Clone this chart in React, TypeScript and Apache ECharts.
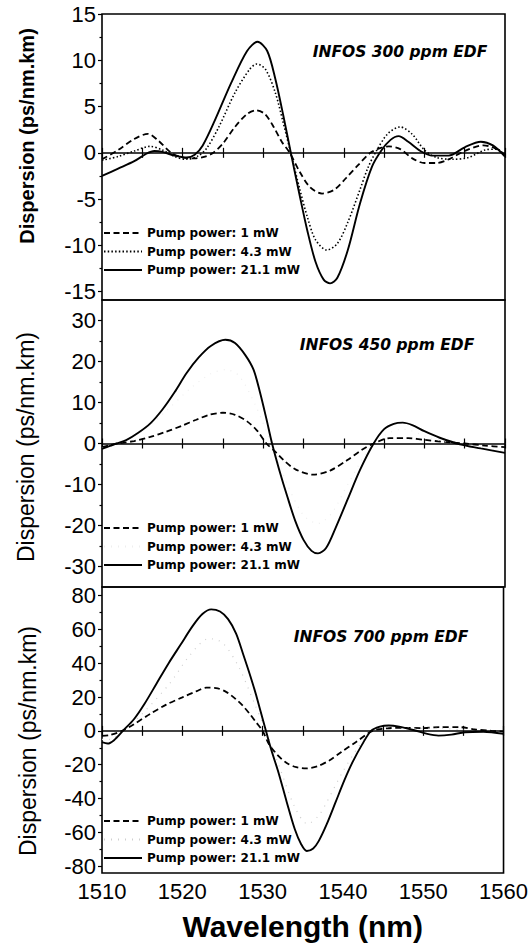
import React, { useEffect, useRef } from "react";
import * as echarts from "echarts";

// ---------- Data ----------
const X_MIN = 1510;
const X_MAX = 1560;
const X_INTERVAL = 10;

const LEGEND_LABELS = ["Pump power: 1 mW", "Pump power: 4.3 mW", "Pump power: 21.1 mW"];
const PANEL_TITLES = ["INFOS 300 ppm EDF", "INFOS 450 ppm EDF", "INFOS 700 ppm EDF"];
const Y_NAME = "Dispersion (ps/nm.km)";
const X_NAME = "Wavelength (nm)";

// y ranges and tick labels
const P1_RANGE = [-15.9, 15];
const P2_RANGE = [-35, 35];
const P3_RANGE = [-84, 85];
const P1_TICKS = [-15, -10, -5, 0, 5, 10, 15];
const P2_TICKS = [-30, -20, -10, 0, 10, 20, 30];
const P3_TICKS = [-80, -60, -40, -20, 0, 20, 40, 60, 80];
const P1_MINOR = [-12.5, -7.5, -2.5, 2.5, 7.5, 12.5];
const P2_MINOR = [-25, -15, -5, 5, 15, 25];
const P3_MINOR = [-70, -50, -30, -10, 10, 30, 50, 70];

// Panel 1 (300 ppm)
const P1_WL_1 = [1510, 1512, 1514, 1515.7, 1517, 1518.6, 1520, 1521.5, 1522.8, 1523.8, 1525, 1526.5, 1528, 1529.1, 1530.2, 1531.3, 1532.3, 1533.3, 1534.5, 1535.8, 1537.3, 1538.8, 1540.3, 1541.8, 1543.3, 1544.5, 1545.6, 1547, 1548.5, 1550, 1551.5, 1553, 1555, 1557.3, 1558.5, 1560];
const P1_D_1 = [-0.7, 0.3, 1.5, 2.05, 1.3, 0.0, -0.5, -0.6, -0.4, 0.0, 1.0, 2.8, 4.2, 4.6, 4.2, 2.8, 1.2, 0.0, -2.0, -3.7, -4.4, -4.0, -2.7, -1.3, 0.0, 0.5, 0.7, 0.4, -0.6, -1.1, -1.1, -0.7, 0.2, 0.8, 0.6, -0.2];
const P1_WL_43 = [1510, 1512, 1514, 1516, 1517.5, 1519, 1520.5, 1522, 1523, 1524.5, 1526.5, 1528.3, 1529.2, 1530.3, 1531.5, 1532.5, 1533.5, 1534.5, 1535.5, 1536.5, 1537.9, 1539.2, 1540.5, 1542, 1543, 1544.1, 1545.5, 1547, 1548.5, 1550, 1551.5, 1553.5, 1555.5, 1557.5, 1559, 1560];
const P1_D_43 = [-0.8, -0.4, 0.2, 0.7, 0.3, -0.4, -0.7, -0.3, 0.5, 2.8, 6.5, 9.0, 9.6, 9.0, 6.5, 3.2, -0.3, -3.8, -7.0, -9.4, -10.5, -9.8, -7.5, -4.0, -1.6, 0.3, 2.1, 2.8, 2.0, 0.3, -0.5, -0.7, -0.5, 0.3, 0.4, -0.3];
const P1_WL_211 = [1510, 1512, 1514, 1515.5, 1516.5, 1517.5, 1519, 1520.5, 1521.5, 1522.5, 1524, 1526, 1528, 1529.3, 1530.5, 1531.5, 1532.5, 1533.5, 1534.5, 1535.5, 1536.5, 1537.5, 1538.3, 1539.2, 1540.5, 1542, 1543.5, 1544.7, 1545.8, 1546.8, 1548, 1549.5, 1551, 1553, 1555, 1557, 1558.5, 1560];
const P1_D_211 = [-2.5, -1.7, -0.9, -0.1, 0.2, 0.1, -0.3, -0.5, -0.2, 0.8, 3.5, 7.5, 11.0, 12.0, 11.0, 8.0, 4.0, -0.3, -4.5, -8.5, -11.8, -13.7, -14.1, -13.5, -10.5, -5.5, -1.5, 0.3, 1.4, 1.8, 1.2, 0.2, -0.3, -0.3, 0.6, 1.2, 0.8, -0.4];

// Panel 2 (450 ppm)
const P2_WL_1 = [1510, 1511, 1512, 1514, 1516, 1518, 1520, 1521.7, 1523.3, 1525, 1526.5, 1528, 1529.3, 1530.4, 1531.5, 1532.5, 1534, 1536.2, 1538.3, 1540.4, 1542.2, 1543.7, 1545.7, 1548, 1550, 1552.3, 1555, 1557.5, 1560];
const P2_D_1 = [-0.9, -0.4, 0.0, 0.6, 1.6, 2.9, 4.4, 5.8, 7.0, 7.5, 7.0, 5.4, 3.0, 0.0, -2.0, -4.0, -6.3, -7.6, -6.6, -4.1, -1.6, 0.0, 1.3, 1.3, 0.9, 0.4, 0.0, -0.5, -0.9];
const P2_WL_43 = [1510, 1512, 1515, 1518, 1521, 1523.5, 1525.3, 1527, 1529, 1531, 1533, 1535, 1536.8, 1538.5, 1540.5, 1543.7, 1547.3, 1551, 1555, 1560];
const P2_D_43 = [-1.2, 0.0, 3.0, 8.0, 13.5, 17.0, 18.0, 16.5, 9.5, 0.0, -10.0, -17.5, -19.5, -17.0, -10.0, 0.0, 3.5, 1.2, -0.5, -1.8];
const P2_WL_211 = [1510, 1511, 1511.8, 1513, 1514.5, 1516, 1517.5, 1519, 1520.5, 1522, 1523.5, 1525.3, 1526.5, 1527.8, 1528.8, 1529.6, 1530.4, 1531.1, 1532, 1533, 1534, 1535, 1536, 1536.8, 1537.8, 1539, 1540.5, 1542, 1543.7, 1545, 1546.2, 1547.3, 1548.5, 1550, 1551.9, 1554.4, 1557, 1560];
const P2_D_211 = [-1.3, -0.6, 0.0, 0.8, 2.6, 4.9, 8.3, 12.5, 17.2, 21.0, 23.8, 25.3, 24.5, 21.5, 18.0, 12.5, 6.0, 0.0, -6.5, -13.0, -19.0, -23.5, -26.2, -26.8, -25.5, -20.5, -13.5, -6.5, 0.0, 3.5, 4.8, 5.1, 4.5, 3.0, 1.4, -0.2, -1.2, -2.3];

// Panel 3 (700 ppm)
const P3_WL_1 = [1510, 1511, 1512.5, 1514, 1516, 1518, 1520, 1521.8, 1523, 1524.2, 1525.5, 1526.6, 1527.5, 1528.4, 1529.2, 1530, 1530.8, 1531.8, 1533, 1534.2, 1535.4, 1536.8, 1538.3, 1539.8, 1541.6, 1543.7, 1545.5, 1547.8, 1550, 1552, 1554.5, 1556.5, 1558.5, 1560];
const P3_D_1 = [-3.0, -2.5, 0.0, 4.0, 10.0, 15.5, 19.8, 23.5, 25.5, 25.3, 22.9, 19.0, 15.0, 10.0, 5.0, 0.0, -8.0, -14.0, -19.0, -21.5, -22.2, -21.0, -17.5, -12.5, -6.7, 0.0, 1.5, 1.8, 1.6, 2.2, 2.2, 0.8, 0.0, -0.5];
const P3_WL_43 = [1510, 1511, 1512.6, 1515, 1518.4, 1521, 1523.3, 1525, 1527, 1529, 1530.3, 1532, 1534, 1535.6, 1537, 1538, 1540, 1542, 1543.6, 1546, 1549, 1552, 1555, 1560];
const P3_D_43 = [-5.0, -5.0, 0.0, 10.0, 27.8, 45.0, 54.5, 52.0, 38.0, 16.0, 1.0, -20.0, -45.0, -55.0, -50.0, -42.0, -24.0, -9.0, 0.0, 2.5, 1.5, 1.5, 0.5, -1.0];
const P3_WL_211 = [1510, 1510.7, 1511.5, 1512.6, 1514, 1515.3, 1516.8, 1518.3, 1519.8, 1521.3, 1522.5, 1523.6, 1524.7, 1525.7, 1526.7, 1527.6, 1528.5, 1529.2, 1530.3, 1531, 1532, 1533, 1534, 1534.8, 1535.5, 1536.3, 1537, 1538, 1539.1, 1540.2, 1541.2, 1542.4, 1543.5, 1544.6, 1545.7, 1547, 1549, 1550.5, 1551.9, 1553.5, 1555.2, 1557.5, 1560];
const P3_D_211 = [-6.7, -7.5, -5.5, 0.0, 7.0, 16.0, 28.0, 40.0, 51.0, 62.0, 69.0, 71.8, 70.5, 66.0, 57.5, 45.0, 32.0, 21.0, 2.0, -10.0, -25.0, -42.0, -58.0, -67.0, -71.0, -69.5, -65.0, -55.0, -42.0, -29.0, -18.5, -8.0, 0.0, 2.5, 3.2, 2.5, 0.2, -1.8, -2.8, -2.2, -0.8, -0.5, -1.8];

// ---------- Layout / style ----------
const GRID_LEFT = 102;
const GRID_RIGHT = 26;
const PANEL_TOP = [14, 300, 587];
const PANEL_HEIGHT = [286, 287, 286];
const LEGEND_LEFT = 103;
const LEGEND_TOP = [227, 522, 815];
const TITLE_POS = [[400, 52], [387, 345], [381, 637]];
const YNAME_POS = [[27, 136], [26, 447], [28, 741]];
const YNAME_STYLE = [
  { fontWeight: "bold", fontSize: 20 },
  { fontWeight: "normal", fontSize: 23 },
  { fontWeight: "normal", fontSize: 23 },
];

const SANS = '"Liberation Sans", Arial, Helvetica, sans-serif';
const DEJAVU = '"DejaVu Sans", sans-serif';

const zip = (xs: number[], ys: number[]) => xs.map((x, i) => [x, ys[i]]);

const PANELS = [
  { range: P1_RANGE, ticks: P1_TICKS, minor: P1_MINOR, curves: [zip(P1_WL_1, P1_D_1), zip(P1_WL_43, P1_D_43), zip(P1_WL_211, P1_D_211)], faint43: false },
  { range: P2_RANGE, ticks: P2_TICKS, minor: P2_MINOR, curves: [zip(P2_WL_1, P2_D_1), zip(P2_WL_43, P2_D_43), zip(P2_WL_211, P2_D_211)], faint43: true },
  { range: P3_RANGE, ticks: P3_TICKS, minor: P3_MINOR, curves: [zip(P3_WL_1, P3_D_1), zip(P3_WL_43, P3_D_43), zip(P3_WL_211, P3_D_211)], faint43: true },
];

function buildOption() {
  const grid: any[] = [];
  const xAxis: any[] = [];
  const yAxis: any[] = [];
  const series: any[] = [];
  const legend: any[] = [];
  const graphic: any[] = [];

  PANELS.forEach((p, i) => {
    grid.push({
      left: GRID_LEFT,
      right: GRID_RIGHT,
      top: PANEL_TOP[i],
      height: PANEL_HEIGHT[i],
      show: true,
      borderColor: "#000",
      borderWidth: 1.6,
      backgroundColor: "transparent",
    });
    const tickStyle = { color: "#000", width: 1.2 };
    const isLast = i === PANELS.length - 1;
    xAxis.push({
      gridIndex: i,
      type: "value",
      position: "bottom",
      min: X_MIN,
      max: X_MAX,
      interval: X_INTERVAL,
      axisLine: { show: false },
      axisTick: { show: true, inside: true, length: 5, lineStyle: tickStyle },
      minorTick: { show: true, splitNumber: 2, length: 5, lineStyle: tickStyle },
      splitLine: { show: false },
      minorSplitLine: { show: false },
      axisLabel: isLast
        ? { show: true, margin: 7, color: "#000", fontSize: 22, fontFamily: SANS, formatter: (v: number) => String(v) }
        : { show: false },
      name: isLast ? X_NAME : "",
      nameLocation: "middle",
      nameGap: 38,
      nameTextStyle: { color: "#000", fontSize: 30, fontWeight: "bold", fontFamily: SANS },
    });
    xAxis.push({
      gridIndex: i,
      type: "value",
      position: "top",
      min: X_MIN,
      max: X_MAX,
      interval: X_INTERVAL,
      axisLine: { show: false },
      axisTick: { show: true, inside: true, length: 5, lineStyle: tickStyle },
      minorTick: { show: true, splitNumber: 2, length: 5, lineStyle: tickStyle },
      splitLine: { show: false },
      axisLabel: { show: false },
    });
    yAxis.push({
      gridIndex: i,
      type: "value",
      position: "left",
      min: p.range[0],
      max: p.range[1],
      axisLine: { show: false },
      axisTick: { show: true, inside: false, length: 4, customValues: p.ticks, lineStyle: tickStyle },
      axisLabel: { show: true, customValues: p.ticks, margin: 6, color: "#000", fontSize: 22, fontFamily: SANS, formatter: (v: number) => String(v) },
      splitLine: { show: false },
    });
    yAxis.push({
      gridIndex: i,
      type: "value",
      position: "left",
      min: p.range[0],
      max: p.range[1],
      axisLine: { show: false },
      axisTick: { show: true, inside: false, length: 2.5, customValues: p.minor, lineStyle: tickStyle },
      axisLabel: { show: false },
      splitLine: { show: false },
    });

    const styles = [
      { color: "#000", width: 1.8, type: [6, 3.5] },
      p.faint43
        ? { color: i === 1 ? "#eeeeee" : "#cfcfcf", width: 1.2, type: [1, 6] }
        : { color: "#000", width: 1.6, type: [1.5, 2.2] },
      { color: "#000", width: 1.9, type: "solid" },
    ];
    p.curves.forEach((data, k) => {
      const s: any = {
        type: "line",
        name: `${LEGEND_LABELS[k]}|p${i}`,
        xAxisIndex: 2 * i,
        yAxisIndex: 2 * i,
        data,
        symbol: "none",
        smooth: 0.3,
        silent: true,
        lineStyle: styles[k],
        itemStyle: { color: styles[k].color },
      };
      if (k === 0) {
        s.markLine = {
          silent: true,
          symbol: "none",
          label: { show: false },
          lineStyle: { color: "#000", width: 1.6, type: "solid" },
          data: [{ yAxis: 0 }],
        };
      }
      series.push(s);
    });

    legend.push({
      orient: "vertical",
      left: LEGEND_LEFT,
      top: LEGEND_TOP[i],
      padding: 0,
      itemWidth: 38,
      itemHeight: 12,
      itemGap: 6.5,
      selectedMode: false,
      itemStyle: { opacity: 0, color: "transparent", borderWidth: 0 },
      data: LEGEND_LABELS.map((l) => `${l}|p${i}`),
      formatter: (n: string) => n.split("|")[0],
      textStyle: { color: "#000", fontSize: 12, fontWeight: "bold", fontFamily: DEJAVU },
    });

    graphic.push({
      type: "text",
      x: TITLE_POS[i][0],
      y: TITLE_POS[i][1],
      style: {
        text: PANEL_TITLES[i],
        fill: "#000",
        fontSize: 15.5,
        fontWeight: "bold",
        fontStyle: "italic",
        fontFamily: DEJAVU,
        textAlign: "center",
        textVerticalAlign: "middle",
        align: "center",
        verticalAlign: "middle",
      },
    });
    graphic.push({
      type: "text",
      x: YNAME_POS[i][0],
      y: YNAME_POS[i][1],
      rotation: Math.PI / 2,
      style: {
        text: Y_NAME,
        fill: "#000",
        fontSize: YNAME_STYLE[i].fontSize,
        fontWeight: YNAME_STYLE[i].fontWeight,
        fontFamily: SANS,
        textAlign: "center",
        textVerticalAlign: "middle",
        align: "center",
        verticalAlign: "middle",
      },
    });
  });

  return {
    animation: false,
    backgroundColor: "#fff",
    grid,
    xAxis,
    yAxis,
    series,
    legend,
    graphic,
  };
}

export default function App() {
  const ref = useRef<HTMLDivElement>(null);
  useEffect(() => {
    if (!ref.current) return;
    const chart = echarts.init(ref.current, undefined, { renderer: "svg" });
    chart.setOption(buildOption() as any);
    return () => chart.dispose();
  }, []);
  return (
    <div
      ref={ref}
      style={{ position: "fixed", left: 0, top: 0, width: 531, height: 950, background: "#fff" }}
    />
  );
}
